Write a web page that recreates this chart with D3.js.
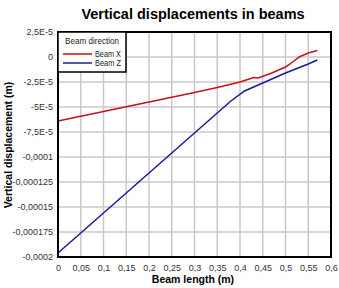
<!DOCTYPE html>
<head>
  <style>
    body { margin: 0; background: #fff; }
    .tick text { font: 9px "Liberation Sans", Arial, sans-serif; fill: #333; }
    .lbl { font: bold 10.5px "Liberation Sans", Arial, sans-serif; fill: #000; }
    .leg { font: 8.5px "Liberation Sans", Arial, sans-serif; fill: #222; }
  </style>
</head>
<body>
  <script src="https://cdn.jsdelivr.net/npm/d3@7/dist/d3.min.js"></script>
  <script>
    // beam length (m)
    var beamXLength = [0, 0.1, 0.2, 0.3, 0.35, 0.4, 0.43, 0.44, 0.47, 0.5, 0.51, 0.53, 0.55, 0.57];
    var beamXDisp = [-64e-6, -54.5e-6, -45e-6, -35.5e-6, -30.5e-6, -25e-6, -20.5e-6, -21e-6, -16e-6, -10e-6, -7e-6, 0, 4e-6, 6.5e-6];
    var beamZLength = [0, 0.1, 0.2, 0.3, 0.35, 0.38, 0.41, 0.45, 0.5, 0.55, 0.57];
    var beamZDisp = [-196e-6, -156e-6, -116e-6, -76e-6, -56e-6, -44e-6, -34e-6, -26e-6, -16e-6, -7e-6, -3e-6];
    var xTicks = [0, 0.05, 0.1, 0.15, 0.2, 0.25, 0.3, 0.35, 0.4, 0.45, 0.5, 0.55, 0.6];
    var xTickLabels = ["0", "0,05", "0,1", "0,15", "0,2", "0,25", "0,3", "0,35", "0,4", "0,45", "0,5", "0,55", "0,6"];
    var yTicks = [2.5e-5, 0, -2.5e-5, -5e-5, -7.5e-5, -1e-4, -1.25e-4, -1.5e-4, -1.75e-4, -2e-4];
    var yTickLabels = ["2,5E-5", "0", "-2,5E-5", "-5E-5", "-7,5E-5", "-0,0001", "-0,000125", "-0,00015", "-0,000175", "-0,0002"];
    var seriesNames = ["Beam X", "Beam Z"];
    var seriesColors = ["#c0141c", "#1a1a9a"];

    var margin = {top: 32, left: 58},
        width = 273, height = 225;

    var svg = d3.select("body").append("svg")
        .attr("width", 339).attr("height", 288);

    svg.append("text")
        .attr("x", 193).attr("y", 19)
        .attr("text-anchor", "middle")
        .style("font", "bold 14.5px 'Liberation Sans', Arial, sans-serif")
        .text("Vertical displacements in beams");

    var g = svg.append("g")
        .attr("transform", "translate(" + margin.left + "," + margin.top + ")");

    var x = d3.scaleLinear().domain([0, 0.6]).range([0, width]);
    var y = d3.scaleLinear().domain([-2e-4, 2.5e-5]).range([height, 0]);

    // grid
    g.selectAll(".vgrid").data(xTicks).enter().append("line")
        .attr("x1", d => x(d)).attr("x2", d => x(d))
        .attr("y1", 0).attr("y2", height)
        .attr("stroke", "#c8c8c8").attr("stroke-width", 1.5);
    g.selectAll(".hgrid").data(yTicks).enter().append("line")
        .attr("x1", 0).attr("x2", width)
        .attr("y1", d => y(d)).attr("y2", d => y(d))
        .attr("stroke", "#c8c8c8").attr("stroke-width", 1.5);

    // axes (labels only)
    g.append("g")
        .attr("transform", "translate(0," + height + ")")
        .call(d3.axisBottom(x).tickValues(xTicks).tickSize(0).tickPadding(8)
              .tickFormat((d, i) => xTickLabels[i]))
        .call(a => a.select(".domain").remove());
    g.append("g")
        .call(d3.axisLeft(y).tickValues(yTicks).tickSize(0).tickPadding(5)
              .tickFormat((d, i) => yTickLabels[i]))
        .call(a => a.select(".domain").remove());

    // lines
    var line = d3.line().x(d => x(d[0])).y(d => y(d[1]));
    var series = [d3.zip(beamXLength, beamXDisp), d3.zip(beamZLength, beamZDisp)];
    g.selectAll(".series").data(series).enter().append("path")
        .attr("d", line)
        .attr("fill", "none")
        .attr("stroke", (d, i) => seriesColors[i])
        .attr("stroke-width", 1.5);

    // frame
    g.append("rect")
        .attr("width", width).attr("height", height)
        .attr("fill", "none").attr("stroke", "#000").attr("stroke-width", 2);

    // legend
    var leg = g.append("g");
    leg.append("rect")
        .attr("width", 68).attr("height", 40)
        .attr("fill", "#fff").attr("stroke", "#000").attr("stroke-width", 1.5);
    leg.append("text").attr("class", "leg")
        .attr("x", 7).attr("y", 12)
        .attr("textLength", 54).attr("lengthAdjust", "spacingAndGlyphs")
        .text("Beam direction");
    seriesNames.forEach(function (n, i) {
      leg.append("line")
          .attr("x1", 5).attr("x2", 34)
          .attr("y1", 22 + i * 9).attr("y2", 22 + i * 9)
          .attr("stroke", seriesColors[i]).attr("stroke-width", 1.5);
      leg.append("text").attr("class", "leg")
          .attr("x", 37).attr("y", 25 + i * 9)
          .attr("textLength", 26).attr("lengthAdjust", "spacingAndGlyphs")
          .text(n);
    });

    // axis titles
    svg.append("text").attr("class", "lbl")
        .attr("x", 193).attr("y", 283)
        .attr("text-anchor", "middle")
        .text("Beam length (m)");
    svg.append("text").attr("class", "lbl")
        .attr("transform", "translate(12,145) rotate(-90)")
        .attr("text-anchor", "middle")
        .text("Vertical displacement (m)");
  </script>
</body>
